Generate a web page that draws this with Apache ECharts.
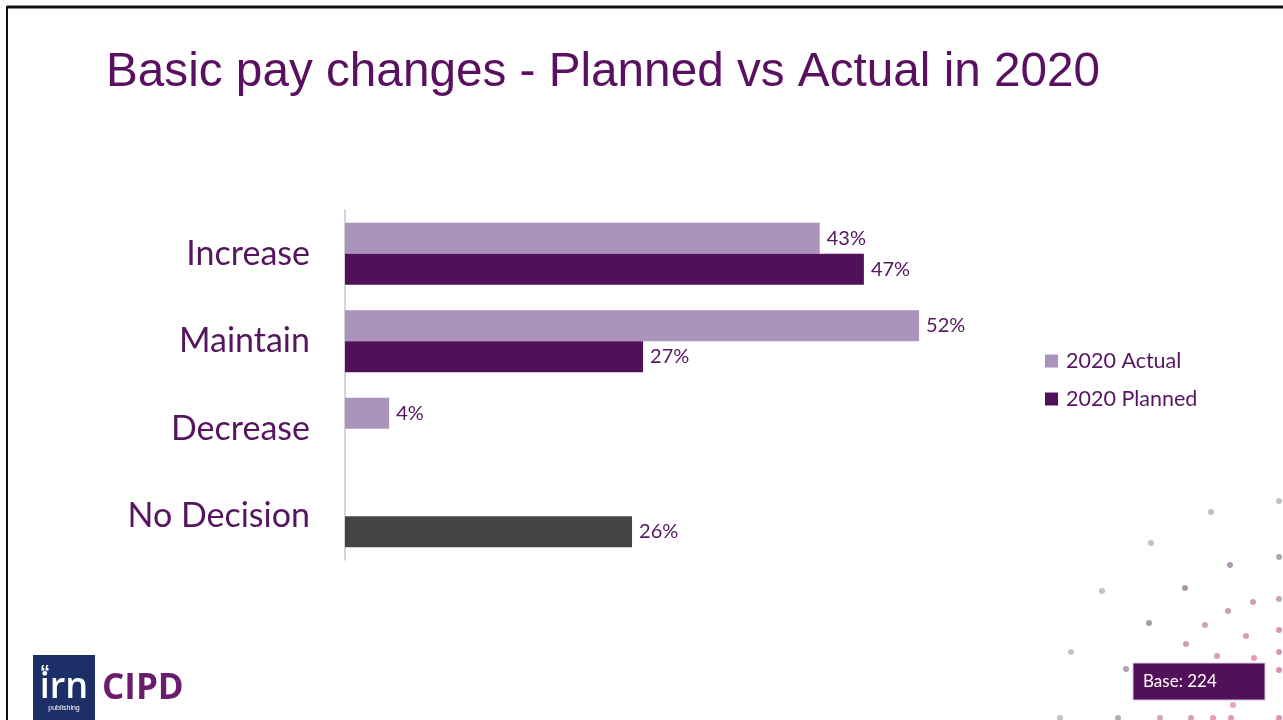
<!DOCTYPE html>
<html>
<head>
<meta charset="utf-8">
<title>Basic pay changes - Planned vs Actual in 2020</title>
<script src="https://cdn.jsdelivr.net/npm/echarts@6/dist/echarts.min.js"></script>
<style>
  html, body { margin: 0; padding: 0; background: #ffffff; }
  #chart { width: 1283px; height: 720px; }
</style>
</head>
<body>
<div id="chart"></div>
<script>
// Survey answers: how basic pay changed, planned vs actual
const categories = ['Increase', 'Maintain', 'Decrease', 'No Decision'];
const actual2020 = [43, 52, 4, null];
const planned2020 = [47, 27, null, 26];
const seriesNames = ['2020 Actual', '2020 Planned'];
const baseText = 'Base: 224';

const PURPLE = '#520f5a';
const MAUVE = '#ab93bb';
const GREY = '#444446';
const TEXT = '#561560';

// Background dot pattern in the lower right corner
const dots = [
  [1279, 501, '#c9bccb'], [1211, 512, '#c9bccb'], [1151, 543, '#c9bccb'],
  [1230, 565, '#ad9cb0'], [1279, 557, '#b4a4b6'], [1102, 591, '#c9bccb'],
  [1185, 588, '#a8989f'], [1253, 602, '#d59db0'], [1228, 611, '#cf9db0'],
  [1279, 599, '#cda2b3'], [1149, 623, '#a89aa6'], [1205, 625, '#d6a3b5'],
  [1279, 630, '#dc94ad'], [1246, 636, '#d89db0'], [1186, 644, '#d29fb0'],
  [1071, 652, '#ccc0ca'], [1217, 656, '#de9ab2'], [1254, 658, '#e49ab3'],
  [1279, 652, '#e095ae'], [1279, 670, '#e08fab'], [1126, 669, '#b2a4b0'],
  [1233, 705, '#e7a3bb'], [1060, 718, '#ccc0ca'], [1118, 718, '#b9a8b6'],
  [1160, 718, '#c4a8b8'], [1191, 718, '#d2a3b5'], [1213, 718, '#e39ab3'],
  [1231, 718, '#e69ab4'], [1279, 718, '#e690ad']
];

const chart = echarts.init(document.getElementById('chart'), null, { renderer: 'canvas' });

const graphics = [
  // slide frame
  { type: 'line', shape: { x1: 7, y1: 7, x2: 1283, y2: 7 }, style: { stroke: '#111', lineWidth: 3 }, z: 10 },
  { type: 'line', shape: { x1: 7, y1: 6, x2: 7, y2: 720 }, style: { stroke: '#111', lineWidth: 2 }, z: 10 }
];
dots.forEach(function (d) {
  graphics.push({ type: 'circle', shape: { cx: d[0], cy: d[1], r: 3 }, style: { fill: d[2] }, z: 1 });
});
graphics.push(
  // base note box
  { type: 'rect', shape: { x: 1133, y: 663, width: 132, height: 37 }, style: { fill: PURPLE, stroke: '#d8c8dc', lineWidth: 1 }, z: 5 },
  { type: 'text', x: 1143, y: 682, style: { text: baseText, fill: '#ffffff', font: '17px Lato', textVerticalAlign: 'middle' }, z: 6 },
  // irn publishing mark
  { type: 'rect', shape: { x: 33, y: 655, width: 62, height: 65 }, style: { fill: '#1c2f66' }, z: 5 },
  { type: 'text', x: 40, y: 663, style: { text: '\u201C', fill: '#ffffff', font: 'bold 20px "Liberation Sans"', textVerticalAlign: 'top' }, z: 6 },
  { type: 'text', x: 64, y: 688, style: { text: 'irn', fill: '#ffffff', font: '600 36px "Open Sans"', textAlign: 'center', textVerticalAlign: 'middle' }, z: 6 },
  { type: 'text', x: 64, y: 708, style: { text: 'publishing', fill: '#ffffff', font: '7px "Liberation Sans"', textAlign: 'center', textVerticalAlign: 'middle' }, z: 6 },
  { type: 'text', x: 102, y: 689, style: { text: 'CIPD', fill: '#6a1d6e', font: 'bold 35px "Open Sans"', textVerticalAlign: 'middle' }, z: 6 }
);

const labelStyle = { show: true, position: 'right', distance: 7, formatter: '{c}%', fontFamily: 'Lato, sans-serif', fontSize: 20, color: TEXT };

const option = {
  backgroundColor: '#ffffff',
  animation: false,
  title: {
    text: 'Basic pay changes - Planned vs Actual in 2020',
    left: 101,
    top: 44,
    textStyle: { fontFamily: '"Liberation Sans", Arial, sans-serif', fontSize: 47.7, fontWeight: 'normal', color: '#5a1060' }
  },
  legend: {
    data: seriesNames,
    orient: 'vertical',
    left: 1045,
    top: 350,
    padding: 0,
    itemWidth: 13,
    itemHeight: 13,
    itemGap: 16,
    icon: 'rect',
    textStyle: { fontFamily: 'Lato, sans-serif', fontSize: 21.5, color: TEXT, padding: [0, 0, 0, 3] }
  },
  grid: { left: 345, top: 210, height: 350, width: 662.4, containLabel: false },
  xAxis: {
    type: 'value',
    min: 0,
    max: 60,
    show: false
  },
  yAxis: {
    type: 'category',
    data: categories,
    inverse: true,
    axisLine: { show: true, lineStyle: { color: '#cbc3cf', width: 1.5 } },
    axisTick: { show: false },
    axisLabel: { margin: 35, fontFamily: 'Lato, sans-serif', fontSize: 34, color: TEXT }
  },
  series: [
    {
      name: seriesNames[0],
      type: 'bar',
      data: actual2020,
      barWidth: 31,
      barGap: '0%',
      itemStyle: { color: MAUVE },
      label: labelStyle
    },
    {
      name: seriesNames[1],
      type: 'bar',
      data: planned2020.map(function (v, i) {
        return categories[i] === 'No Decision' ? { value: v, itemStyle: { color: GREY } } : v;
      }),
      barWidth: 31,
      barGap: '0%',
      itemStyle: { color: PURPLE },
      label: labelStyle
    }
  ],
  graphic: graphics
};

chart.setOption(option);
</script>
</body>
</html>
